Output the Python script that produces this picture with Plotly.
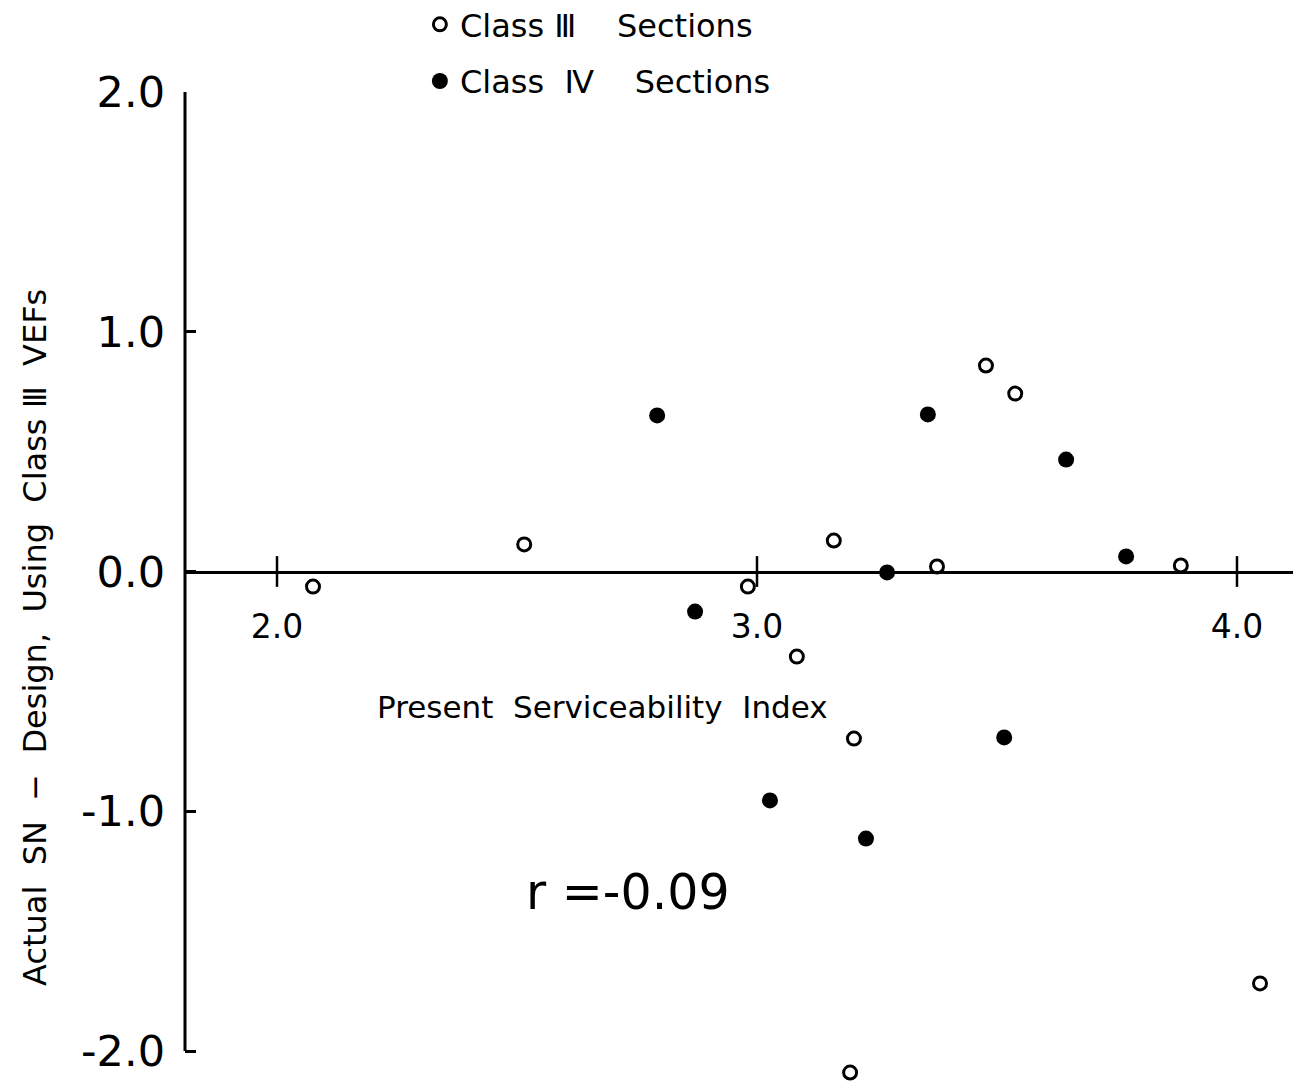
import plotly.graph_objects as go

# Class III sections (open circles)
class3_psi = [2.075, 2.515, 2.981, 3.083, 3.160, 3.202, 3.375, 3.477, 3.538, 3.883, 4.048, 3.194]
class3_diff = [-0.063, 0.113, -0.063, -0.355, 0.129, -0.697, 0.021, 0.859, 0.742, 0.025, -1.718, -2.09]

# Class IV sections (filled circles)
class4_psi = [2.792, 2.871, 3.027, 3.227, 3.271, 3.356, 3.515, 3.644, 3.769]
class4_diff = [0.651, -0.167, -0.955, -1.114, -0.004, 0.655, -0.692, 0.467, 0.063]

x_ticks = [2.0, 3.0, 4.0]
x_tick_labels = ["2.0", "3.0", "4.0"]
y_ticks = [-2.0, -1.0, 0.0, 1.0, 2.0]
y_tick_labels = ["-2.0", "-1.0", "0.0", "1.0", "2.0"]

FONT = "DejaVu Sans"

X_RANGE = [1.8083, 4.1167]
Y_RANGE = [-2.1418, 2.0]   # a little room below -2.0 for the lowest point
x_axis_pos = (0 - Y_RANGE[0]) / (Y_RANGE[1] - Y_RANGE[0])

fig = go.Figure()

# crossing tick marks on the x axis (drawn at y=0)
fig.add_trace(go.Scatter(
    x=x_ticks, y=[0] * len(x_ticks), mode="markers",
    marker=dict(symbol="line-ns", size=22, line=dict(color="black", width=2.5)),
    showlegend=False, hoverinfo="skip", cliponaxis=False,
))

fig.add_trace(go.Scatter(
    x=class3_psi, y=class3_diff, mode="markers",
    name="Class Ⅲ    Sections", legendgroup="c3",
    marker=dict(symbol="circle-open", size=13, color="black", line=dict(color="black", width=3)),
    cliponaxis=False,
))
fig.add_trace(go.Scatter(
    x=class4_psi, y=class4_diff, mode="markers",
    name="Class  Ⅳ    Sections", legendgroup="c4",
    marker=dict(symbol="circle", size=16, color="black"),
    cliponaxis=False,
))

fig.update_layout(
    width=1286, height=1077, autosize=False,
    margin=dict(l=177, r=1, t=84, b=0, autoexpand=False),
    paper_bgcolor="white", plot_bgcolor="white",
    font=dict(family=FONT, color="black"),
    showlegend=True,
    legend=dict(
        x=0.212, y=1.0956, xanchor="left", yanchor="top",
        font=dict(size=32, family=FONT, color="black"),
        bgcolor="rgba(0,0,0,0)", traceorder="grouped", tracegroupgap=12,
        itemsizing="trace",
    ),
    xaxis=dict(
        range=X_RANGE, anchor="free", position=x_axis_pos,
        showline=True, linecolor="black", linewidth=3,
        ticks="", tickvals=x_ticks, ticktext=x_tick_labels,
        tickfont=dict(size=33, family=FONT, color="black"),
        ticklabelstandoff=25,
        showgrid=False, zeroline=False,
    ),
    yaxis=dict(
        range=Y_RANGE,
        showline=False,
        ticks="inside", ticklen=11, tickwidth=2.5, tickcolor="black",
        tickvals=y_ticks, ticktext=y_tick_labels,
        tickfont=dict(size=43, family=FONT, color="black"),
        ticklabelstandoff=19,
        showgrid=False, zeroline=False,
    ),
    shapes=[
        # vertical axis line, spanning the labelled range only
        dict(type="line", xref="paper", yref="y", x0=0, x1=0,
             y0=y_ticks[0], y1=y_ticks[-1], line=dict(color="black", width=3)),
    ],
    annotations=[
        dict(text="Present  Serviceability  Index", x=2.679, y=-0.567, xref="x", yref="y",
             xanchor="center", yanchor="middle",
             showarrow=False, font=dict(size=31, family=FONT, color="black")),
        dict(text="r =-0.09", x=2.731, y=-1.339, xref="x", yref="y",
             xanchor="center", yanchor="middle",
             showarrow=False, font=dict(size=49, family=FONT, color="black")),
        dict(text="Actual  SN  −  Design,  Using  Class Ⅲ  VEFs", textangle=-90,
             x=-0.1354, y=0.4512, xref="paper", yref="paper",
             xanchor="center", yanchor="middle",
             showarrow=False, font=dict(size=32, family=FONT, color="black")),
    ],
)

fig.write_html("out.html")
